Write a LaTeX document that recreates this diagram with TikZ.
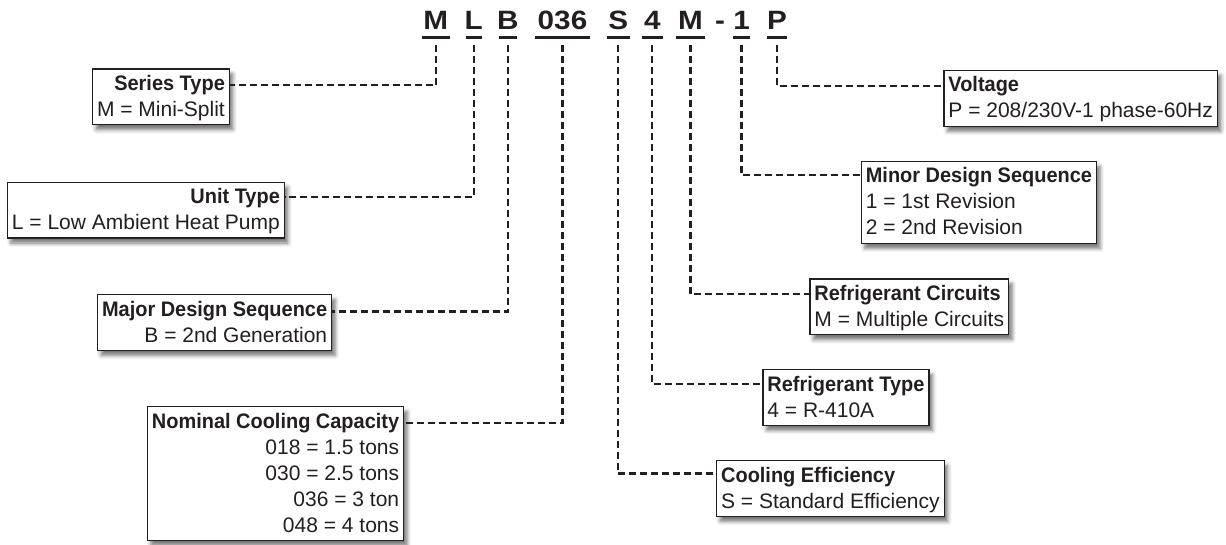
\documentclass[tikz,border=0pt]{standalone}
\usepackage{fontspec}
\setmainfont{Liberation Sans}
\newfontfamily\boldf{Liberation Sans Bold}[FakeStretch=0.95]
\newfontfamily\titlef{Liberation Sans Bold}[FakeStretch=1.12]
\usetikzlibrary{shadows.blur,calc}
\definecolor{ink}{HTML}{231F20}
\newcommand\lst{\rule[-6pt]{0pt}{25pt}}
\newcommand\hd[1]{\lst{\boldf #1}}
\newcommand\lnx[1]{\lst #1}
\begin{document}
\begin{tikzpicture}[x=1pt,y=-1pt,
  box/.style={draw=ink, line width=1.3pt, fill=white, text=ink,
    inner xsep=4.5pt, inner ysep=2.35pt, font=\fontsize{21}{26}\selectfont,
    blur shadow={shadow xshift=3.5pt, shadow yshift=-5pt, shadow blur radius=4pt, shadow opacity=55}},
  lbox/.style={box, align=right, anchor=north east},
  rbox/.style={box, align=left, anchor=north west},
  conn/.style={draw=ink, line width=2.3pt, dash pattern=on 7pt off 4pt},
  code/.style={font=\titlef\fontsize{26.5}{26.5}\selectfont, text=ink, inner sep=0pt, anchor=base},
  uline/.style={draw=ink, line width=2.5pt}]
\useasboundingbox (0,0) rectangle (1226,545);

% code letters
\node[code] (cM)  at (435.8,29.6) {M};
\node[code] (cL)  at (473.8,29.6) {L};
\node[code] (cB)  at (507.8,29.6) {B};
\node[code] (cN)  at (562.5,29.6) {036};
\node[code] (cS)  at (618.3,29.6) {S};
\node[code] (cR)  at (652.3,29.6) {4};
\node[code] (cC)  at (690.5,29.6) {M};
\node[code] (cD)  at (720,29.6) {-};
\node[code] (c1)  at (741.5,29.6) {1};
\node[code] (cP)  at (777,29.6) {P};

% underlines
\draw[uline] ($(cM.base)+(-14.2,8.1)$) -- ++(28.4,0);
\draw[uline] ($(cL.base)+(-7.9,8.1)$) -- ++(15.8,0);
\draw[uline] ($(cB.base)+(-8.9,8.1)$) -- ++(17.8,0);
\draw[uline] ($(cN.base)+(-27.5,8.1)$) -- ++(55,0);
\draw[uline] ($(cS.base)+(-11.7,8.1)$) -- ++(23.4,0);
\draw[uline] ($(cR.base)+(-10.7,8.1)$) -- ++(21.4,0);
\draw[uline] ($(cC.base)+(-14.5,8.1)$) -- ++(29,0);
\draw[uline] ($(c1.base)+(-8.5,8.1)$) -- ++(17,0);
\draw[uline] ($(cP.base)+(-10,8.1)$) -- ++(20,0);

% left boxes
\node[lbox] (series) at (230,68.3) {\hd{Series Type}\\\lnx{M = Mini-Split}};
\node[lbox] (unit) at (285,181.7) {\hd{Unit Type}\\\lnx{L = Low Ambient Heat Pump}};
\node[lbox] (major) at (332.3,294) {\hd{Major Design Sequence}\\\lnx{B = 2nd Generation}};
\node[lbox] (nominal) at (404.3,406) {\hd{Nominal Cooling Capacity}\\\lnx{018 = 1.5 tons}\\\lnx{030 = 2.5 tons}\\\lnx{036 = 3 ton}\\\lnx{048 = 4 tons}};

% right boxes
\node[rbox] (voltage) at (943.3,70) {\hd{Voltage}\\\lnx{P = 208/230V-1 phase-60Hz}};
\node[rbox] (minor) at (860.7,161) {\hd{Minor Design Sequence}\\\lnx{1 = 1st Revision}\\\lnx{2 = 2nd Revision}};
\node[rbox] (refc) at (809.3,278.3) {\hd{Refrigerant Circuits}\\\lnx{M = Multiple Circuits}};
\node[rbox] (reft) at (762.3,369) {\hd{Refrigerant Type}\\\lnx{4 = R-410A}};
\node[rbox] (cool) at (716,460) {\hd{Cooling Efficiency}\\\lnx{S = Standard Efficiency}};

% connectors
\draw[conn] ($(cM.base)+(0,15)$) |- ($(series.north east)+(0,17)$);
\draw[conn] ($(cL.base)+(0,15)$) |- ($(unit.north east)+(0,15.5)$);
\draw[conn] ($(cB.base)+(0,15)$) |- ($(major.north east)+(0,17.5)$);
\draw[conn] ($(cN.base)+(0,15)$) |- ($(nominal.north east)+(0,17)$);
\draw[conn] ($(cS.base)+(0,15)$) |- ($(cool.north west)+(0,13.5)$);
\draw[conn] ($(cR.base)+(0,15)$) |- ($(reft.north west)+(0,15)$);
\draw[conn] ($(cC.base)+(0,15)$) |- ($(refc.north west)+(0,15.5)$);
\draw[conn] ($(c1.base)+(0,15)$) |- ($(minor.north west)+(0,14)$);
\draw[conn] ($(cP.base)+(0,15)$) |- ($(voltage.north west)+(0,15.7)$);
\end{tikzpicture}
\end{document}
